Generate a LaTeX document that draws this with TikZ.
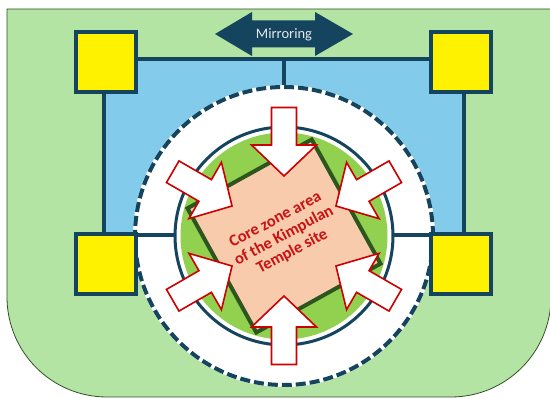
\documentclass[tikz,border=0pt]{standalone}
\usepackage{fontspec}
\setmainfont{Carlito}
\usepackage{xcolor}

\definecolor{bggreen}{RGB}{180,228,163}
\definecolor{bgedge}{RGB}{50,80,35}
\definecolor{poolblue}{RGB}{131,203,235}
\definecolor{darkteal}{RGB}{20,68,94}
\definecolor{leafgreen}{RGB}{146,208,80}
\definecolor{sqgreen}{RGB}{45,85,30}
\definecolor{peach}{RGB}{248,203,173}
\definecolor{corered}{RGB}{200,20,20}
\definecolor{arrowred}{RGB}{204,0,0}
\definecolor{mirtext}{RGB}{230,232,235}

\begin{document}
\begin{tikzpicture}[x=1pt,y=1pt,
  post/.style={draw=darkteal,line width=4pt,fill=yellow,minimum size=60pt,inner sep=0pt},
  link/.style={draw=darkteal,line width=4pt,line join=miter},
  inward/.style={draw=arrowred,line width=1.6pt,fill=white,line join=miter}]
  \useasboundingbox (0,0) rectangle (550,399);
  \coordinate (C) at (284,163);
  % background zone
  \draw[fill=bggreen,draw=bgedge,line width=0.8pt] (551,390) -- (7,390) -- (7,102)
    arc[start angle=180,end angle=270,radius=100] -- (451,2)
    arc[start angle=270,end angle=360,radius=100] -- cycle;
  \fill[poolblue] (104,164) rectangle (464,339.5);
  \coordinate (bTL) at (104,339.5);
  \coordinate (bTR) at (464,339.5);
  \coordinate (bBL) at (104,164);
  \coordinate (bBR) at (464,164);
  \coordinate (bTM) at (284,339.5);
  % buffer circle
  \node[circle,minimum size=298pt,inner sep=0pt,fill=white,draw=darkteal,line width=4pt,
    dash pattern=on 10pt off 4pt,preaction={draw=white,solid}] (zone) at (C) {};
  \draw[link] (bBL) -- (bTL) -- (bTR) -- (bBR) -- cycle;
  \draw[link] (bTM) -- (zone.north);
  \node[circle,minimum size=218pt,inner sep=0pt,draw=darkteal,line width=3pt,fill=white] (ring) at (C) {};
  \node[circle,minimum size=207pt,inner sep=0pt,fill=leafgreen] (lawn) at (C) {};
  % core zone
  \node[draw=sqgreen,line width=4pt,fill=peach,minimum size=142pt,inner sep=0pt,rotate=29] (core) at (C) {};
  \node[rotate=28,text=corered,align=center,font=\bfseries\fontsize{16.5}{18}\selectfont] (coretext) at (C)
    {Core zone area\\of the Kimpulan\\Temple site};
  \foreach \a in {30,90,...,330}
    \draw[inward,shift={(C)},rotate=\a] (60,0) -- (91,32.5) -- (91,12.5) -- (128.5,12.5)
      -- (128.5,-12.5) -- (91,-12.5) -- (91,-32.5) -- cycle;
  % posts
  \node[post] (sqTL) at (106,337) {};
  \node[post] (sqTR) at (461,337) {};
  \node[post] (sqBL) at (106,134.5) {};
  \node[post] (sqBR) at (461,134.5) {};
  % mirroring arrow
  \fill[darkteal,shift={(284,365)}] (-69,0) -- (-32,22) -- (-32,13.5) -- (31,13.5) -- (31,22)
    -- (69,0) -- (31,-22) -- (31,-13.5) -- (-32,-13.5) -- (-32,-22) -- cycle;
  \node[text=mirtext,font=\fontsize{14.5}{16}\selectfont] (mirror) at (284,364.5) {Mirroring};
\end{tikzpicture}
\end{document}
